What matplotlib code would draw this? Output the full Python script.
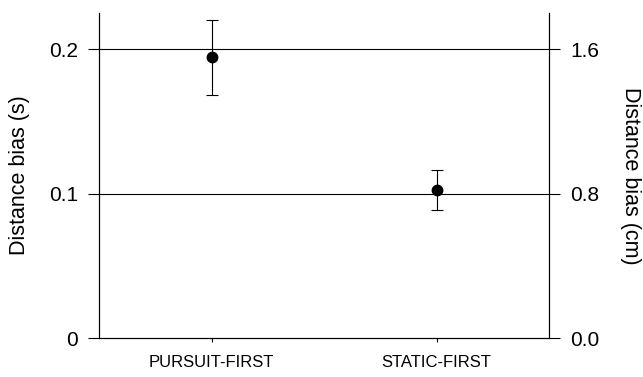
import matplotlib.pyplot as plt
from matplotlib import font_manager

# Data
conditions = ['PURSUIT-FIRST', 'STATIC-FIRST']
bias_s = [0.1945, 0.1022]
err_low = [0.1686, 0.0889]
err_high = [0.2205, 0.1165]
left_ticks = [0, 0.1, 0.2]
left_labels = ['0', '0.1', '0.2']
right_ticks = [0.0, 0.8, 1.6]
cm_per_s = 8.0

plt.rcParams['font.family'] = ['Liberation Sans', 'DejaVu Sans']

# category labels in the original are set in a condensed face
installed = {f.name for f in font_manager.fontManager.ttflist}
if 'Liberation Sans Narrow' in installed:
    xfont, xsize = 'Liberation Sans Narrow', 12.5
else:
    xfont, xsize = 'Liberation Sans', 12

fig = plt.figure(figsize=(6.43, 3.77), dpi=100)
ax = fig.add_axes([0.154, 0.1034, 0.70, 0.862])

x = list(range(len(conditions)))
yerr = [[b - lo for b, lo in zip(bias_s, err_low)],
        [hi - b for b, hi in zip(bias_s, err_high)]]

# reference lines at the labelled ticks
for t in left_ticks[1:]:
    ax.axhline(t, color='black', lw=0.8, zorder=1)

ax.errorbar(x, bias_s, yerr=yerr, fmt='o', color='black', ms=7.5,
            elinewidth=0.8, capsize=4.5, capthick=0.8, zorder=3)

ax.set_xlim(-0.5, 1.5)
ax.set_ylim(0, 0.225)
ax.set_xticks(x)
ax.set_xticklabels(conditions, fontsize=xsize, family=[xfont, 'DejaVu Sans'])
ax.set_yticks(left_ticks)
ax.set_yticklabels(left_labels, fontsize=15)
ax.set_ylabel('Distance bias (s)', fontsize=15.5, va='center')
ax.yaxis.set_label_coords(-0.176, 0.5)
ax.tick_params(direction='out', length=8, width=0.8, pad=7)
ax.tick_params(axis='x', length=3, pad=9)

ax.spines['top'].set_visible(False)
for s in ['left', 'right', 'bottom']:
    ax.spines[s].set_linewidth(0.8)

# right axis in cm
ax2 = ax.twinx()
ax2.set_ylim(0, 0.225 * cm_per_s)
ax2.set_yticks(right_ticks)
ax2.set_yticklabels([f'{t:.1f}' for t in right_ticks], fontsize=15)
ax2.set_ylabel('Distance bias (cm)', fontsize=15.5, rotation=270, va='center')
ax2.yaxis.set_label_coords(1.18, 0.5)
ax2.tick_params(direction='out', length=8, width=0.8, pad=7)
ax2.spines['top'].set_visible(False)
ax2.spines['right'].set_linewidth(0.8)

fig.savefig('out.png', dpi=100)
